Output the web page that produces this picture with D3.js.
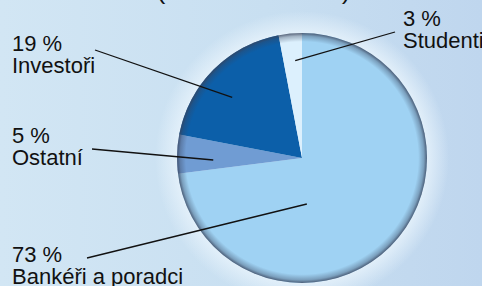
<!DOCTYPE html>
<html>
<head>
<meta charset="utf-8">
<script src="https://cdn.jsdelivr.net/npm/d3@7"></script>
<style>
  body { margin: 0; overflow: hidden; }
  svg { display: block; }
</style>
</head>
<body>
<script>
// data
const categories = ["Bankéři a poradci", "Ostatní", "Investoři", "Studenti"];
const shares = [73, 5, 19, 3];
const sliceColors = ["#9fd2f3", "#709cd3", "#0c5fa9", "#dcf0fd"];

const width = 482, height = 286;
const cx = 302, cy = 158, radius = 125;

const svg = d3.select("body").append("svg")
  .attr("width", width)
  .attr("height", height);

const defs = svg.append("defs");

// background gradient
const bg = defs.append("linearGradient").attr("id", "bg")
  .attr("x1", "0%").attr("y1", "0%").attr("x2", "100%").attr("y2", "0%");
bg.append("stop").attr("offset", "0%").attr("stop-color", "#d2e6f4");
bg.append("stop").attr("offset", "55%").attr("stop-color", "#c8dff1");
bg.append("stop").attr("offset", "100%").attr("stop-color", "#bfd6ee");

// soft glow around the pie
const glowR = radius + 22;
const glow = defs.append("radialGradient").attr("id", "glow")
  .attr("cx", "50%").attr("cy", "50%").attr("r", "50%");
glow.append("stop").attr("offset", radius / glowR).attr("stop-color", "#e6f2fb").attr("stop-opacity", 0.85);
glow.append("stop").attr("offset", "1").attr("stop-color", "#e6f2fb").attr("stop-opacity", 0);

// dark rim on the pie edge
const shade = defs.append("radialGradient").attr("id", "shade")
  .attr("cx", "50%").attr("cy", "50%").attr("r", "50%");
shade.append("stop").attr("offset", "0.93").attr("stop-color", "#38425a").attr("stop-opacity", 0);
shade.append("stop").attr("offset", "0.975").attr("stop-color", "#38425a").attr("stop-opacity", 0.35);
shade.append("stop").attr("offset", "1").attr("stop-color", "#38425a").attr("stop-opacity", 0.8);

svg.append("rect").attr("width", width).attr("height", height).attr("fill", "url(#bg)");

// title, cut off at the top edge
svg.append("text")
  .attr("x", 157).attr("y", -1)
  .attr("textLength", 193)
  .attr("lengthAdjust", "spacingAndGlyphs")
  .attr("font-family", "Liberation Sans, Arial, sans-serif")
  .attr("font-size", 22)
  .attr("fill", "#111")
  .text("(struktura klientů)");

const g = svg.append("g").attr("transform", `translate(${cx},${cy})`);

g.append("circle").attr("r", glowR).attr("fill", "url(#glow)");

const pie = d3.pie().sort(null).value(d => d);
const arc = d3.arc().innerRadius(0).outerRadius(radius);
const arcs = pie(shares);

g.selectAll("path.slice")
  .data(arcs)
  .join("path")
  .attr("class", "slice")
  .attr("d", arc)
  .attr("fill", (d, i) => sliceColors[i]);

g.append("circle").attr("r", radius).attr("fill", "url(#shade)");

// labels: text position and where the leader line starts/ends
const labelLayout = [
  { x: 12, y: 262, lx: 87, ly: 258, ang: 174, rf: 0.37 },
  { x: 12, y: 143, lx: 92, ly: 149, ang: 268.7, rf: 0.71 },
  { x: 12, y: 51, lx: 95, ly: 50, ang: 311, rf: 0.74 },
  { x: 403, y: 26, lx: 395, ly: 32, ang: 356, rf: 0.78 }
];

const labels = svg.append("g")
  .attr("font-family", "Liberation Sans, Arial, sans-serif")
  .attr("font-size", 22)
  .attr("fill", "#111");

categories.forEach((c, i) => {
  const L = labelLayout[i];
  const a = L.ang * Math.PI / 180;
  const ex = cx + Math.sin(a) * radius * L.rf;
  const ey = cy - Math.cos(a) * radius * L.rf;
  svg.append("line")
    .attr("x1", L.lx).attr("y1", L.ly)
    .attr("x2", ex).attr("y2", ey)
    .attr("stroke", "#111")
    .attr("stroke-width", 1.3);
  const t = labels.append("text").attr("x", L.x).attr("y", L.y);
  t.append("tspan").attr("x", L.x).text(shares[i] + " %");
  t.append("tspan").attr("x", L.x).attr("dy", 22).text(c);
});
</script>
</body>
</html>
